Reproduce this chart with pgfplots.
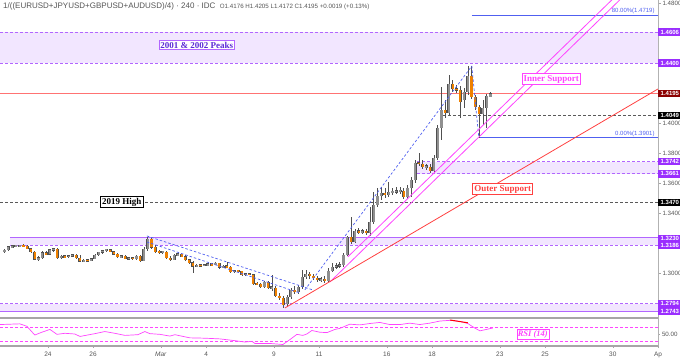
\documentclass[border=0pt]{standalone}
\usepackage{pgfplots}
\pgfplotsset{compat=1.18}
\usepackage{pgfplotstable}
\usepackage{fontspec}
\setmainfont{Liberation Sans}
\newfontfamily\serifb{Liberation Serif}
\definecolor{zfill}{HTML}{F2E6FF}
\definecolor{zline}{HTML}{B266FF}
\definecolor{zlab}{HTML}{9A2EFE}
\definecolor{upc}{HTML}{909090}
\definecolor{dnc}{HTML}{EE8000}
\definecolor{wick}{HTML}{505050}
\definecolor{fibblue}{HTML}{5060F0}
\definecolor{magl}{HTML}{FF44FF}
\definecolor{redl}{HTML}{FF4040}
\definecolor{darkred}{HTML}{8B0000}
\definecolor{txtgray}{HTML}{555555}
\definecolor{peaktxt}{HTML}{5B2BD6}
% rising candles (close >= open)
\pgfplotstableread{
x o h l c
-1.917 1.3140 1.3160 1.3133 1.3153
-1.750 1.3153 1.3180 1.3148 1.3175
-1.583 1.3175 1.3185 1.3168 1.3178
-1.417 1.3178 1.3186 1.3170 1.3180
-1.250 1.3180 1.3188 1.3172 1.3182
-0.417 1.3092 1.3110 1.3080 1.3100
-0.250 1.3100 1.3150 1.3095 1.3135
0.083 1.3125 1.3162 1.3120 1.3155
0.250 1.3155 1.3168 1.3140 1.3160
0.583 1.3102 1.3118 1.3095 1.3112
0.917 1.3108 1.3120 1.3102 1.3115
1.083 1.3115 1.3125 1.3108 1.3120
1.583 1.3078 1.3090 1.3070 1.3085
1.917 1.3082 1.3100 1.3078 1.3095
2.083 1.3095 1.3125 1.3090 1.3120
2.250 1.3120 1.3142 1.3115 1.3138
2.417 1.3138 1.3155 1.3130 1.3150
2.583 1.3150 1.3162 1.3140 1.3155
3.250 1.3108 1.3118 1.3100 1.3112
3.583 1.3095 1.3105 1.3088 1.3100
3.917 1.3096 1.3118 1.3085 1.3112
4.250 1.3082 1.3170 1.3078 1.3160
4.417 1.3160 1.3240 1.3150 1.3225
5.083 1.3138 1.3150 1.3128 1.3140
5.583 1.3088 1.3125 1.3085 1.3120
5.750 1.3120 1.3130 1.3112 1.3125
6.583 1.3045 1.3060 1.3040 1.3052
6.917 1.3048 1.3060 1.3045 1.3055
7.083 1.3055 1.3062 1.3048 1.3058
7.417 1.3055 1.3070 1.3050 1.3065
7.750 1.3038 1.3050 1.3032 1.3045
8.250 1.3008 1.3020 1.3000 1.3015
8.750 1.2988 1.3000 1.2980 1.2995
9.583 1.2908 1.2945 1.2900 1.2940
9.917 1.2900 1.2987 1.2880 1.2905
10.583 1.2793 1.2853 1.2780 1.2840
10.750 1.2840 1.2900 1.2827 1.2887
11.083 1.2873 1.2920 1.2860 1.2907
11.250 1.2907 1.3020 1.2893 1.2973
11.417 1.2973 1.3020 1.2960 1.2993
12.083 1.2953 1.2973 1.2940 1.2960
12.417 1.2947 1.3033 1.2940 1.3013
12.583 1.3013 1.3067 1.3007 1.3040
12.750 1.3040 1.3067 1.3027 1.3047
12.917 1.3047 1.3073 1.3033 1.3053
13.083 1.3053 1.3133 1.3040 1.3120
13.250 1.3120 1.3247 1.3113 1.3240
13.583 1.3207 1.3293 1.3200 1.3280
13.917 1.3273 1.3293 1.3260 1.3280
14.250 1.3267 1.3440 1.3247 1.3340
14.417 1.3340 1.3540 1.3327 1.3453
14.583 1.3453 1.3567 1.3440 1.3513
14.750 1.3513 1.3573 1.3487 1.3533
15.083 1.3520 1.3607 1.3507 1.3540
15.250 1.3540 1.3567 1.3520 1.3540
15.417 1.3540 1.3573 1.3527 1.3547
15.583 1.3547 1.3573 1.3527 1.3547
15.917 1.3507 1.3587 1.3493 1.3567
16.083 1.3567 1.3640 1.3507 1.3620
16.250 1.3620 1.3753 1.3600 1.3733
16.750 1.3707 1.3727 1.3687 1.3713
17.083 1.3680 1.3787 1.3667 1.3767
17.250 1.3767 1.3987 1.3753 1.3967
17.417 1.3967 1.4240 1.3887 1.4087
17.750 1.4067 1.4320 1.4053 1.4260
18.417 1.4153 1.4233 1.4100 1.4207
18.583 1.4207 1.4380 1.4187 1.4313
19.250 1.4060 1.4153 1.3987 1.4100
19.417 1.4100 1.4193 1.3967 1.4180
19.583 1.4176 1.4205 1.4172 1.4195
}\upcandles
% falling candles (close < open)
\pgfplotstableread{
x o h l c
-1.083 1.3182 1.3190 1.3170 1.3178
-0.917 1.3178 1.3185 1.3158 1.3162
-0.750 1.3162 1.3168 1.3135 1.3140
-0.583 1.3140 1.3145 1.3085 1.3092
-0.083 1.3135 1.3145 1.3118 1.3125
0.417 1.3160 1.3168 1.3095 1.3102
0.750 1.3112 1.3120 1.3100 1.3108
1.250 1.3120 1.3128 1.3092 1.3100
1.417 1.3100 1.3118 1.3072 1.3078
1.750 1.3085 1.3092 1.3078 1.3082
2.750 1.3155 1.3162 1.3138 1.3142
2.917 1.3142 1.3150 1.3120 1.3125
3.083 1.3125 1.3132 1.3100 1.3108
3.417 1.3112 1.3118 1.3090 1.3095
3.750 1.3100 1.3108 1.3090 1.3096
4.083 1.3112 1.3122 1.3075 1.3082
4.583 1.3225 1.3232 1.3160 1.3170
4.750 1.3170 1.3185 1.3135 1.3142
4.917 1.3142 1.3155 1.3130 1.3138
5.250 1.3140 1.3145 1.3095 1.3100
5.417 1.3100 1.3110 1.3080 1.3088
5.917 1.3125 1.3132 1.3105 1.3110
6.083 1.3110 1.3118 1.3080 1.3088
6.250 1.3088 1.3095 1.3060 1.3068
6.417 1.3068 1.3078 1.3000 1.3045
6.750 1.3052 1.3060 1.3042 1.3048
7.250 1.3058 1.3065 1.3050 1.3055
7.583 1.3065 1.3068 1.3030 1.3038
7.917 1.3045 1.3075 1.3035 1.3040
8.083 1.3040 1.3048 1.3000 1.3008
8.417 1.3015 1.3020 1.3005 1.3010
8.583 1.3010 1.3015 1.2980 1.2988
8.917 1.2995 1.3002 1.2985 1.2988
9.083 1.2988 1.2995 1.2920 1.2928
9.250 1.2928 1.2940 1.2918 1.2925
9.417 1.2925 1.2935 1.2900 1.2908
9.750 1.2940 1.2948 1.2895 1.2900
10.083 1.2900 1.2913 1.2840 1.2847
10.250 1.2847 1.2867 1.2820 1.2833
10.417 1.2833 1.2847 1.2767 1.2787
10.917 1.2887 1.2913 1.2860 1.2873
11.583 1.2993 1.3007 1.2960 1.2980
11.750 1.2980 1.2993 1.2953 1.2967
11.917 1.2967 1.2980 1.2940 1.2953
12.250 1.2960 1.2980 1.2933 1.2947
13.417 1.3240 1.3373 1.3193 1.3207
13.750 1.3280 1.3300 1.3260 1.3273
14.083 1.3280 1.3293 1.3253 1.3267
14.917 1.3533 1.3567 1.3500 1.3520
15.750 1.3547 1.3567 1.3493 1.3507
16.417 1.3733 1.3800 1.3713 1.3730
16.583 1.3727 1.3753 1.3693 1.3707
16.917 1.3707 1.3727 1.3667 1.3680
17.583 1.4087 1.4153 1.4033 1.4067
17.917 1.4260 1.4287 1.4207 1.4227
18.083 1.4227 1.4253 1.4200 1.4220
18.250 1.4220 1.4247 1.4033 1.4140
18.750 1.4313 1.4380 1.4160 1.4173
18.917 1.4173 1.4187 1.4087 1.4107
19.083 1.4107 1.4120 1.3901 1.4060
}\dncandles
\newcommand{\plab}[3]{\node[fill=#2, text=white, font=\bfseries\fontsize{6}{7}\selectfont, anchor=west, inner xsep=2.5pt, inner ysep=1.6pt] at (axis cs:27,#1) {#3};}
\begin{document}
\begin{tikzpicture}[x=1pt,y=1pt]
\path[use as bounding box] (0,0) rectangle (680,359);
\begin{axis}[
  at={(0pt,41pt)}, anchor=south west,
  width=658pt, height=318pt, scale only axis,
  xmin=-2.12, xmax=27, ymin=1.27, ymax=1.482,
  axis x line=none, axis y line*=right,
  y axis line style={draw=gray!60, line width=0.8pt, -},
  ytick={1.30,1.34,1.36,1.38,1.40,1.48},
  ytick style={draw=gray!70}, tick align=outside, major tick length=2.5pt,
  yticklabel style={font=\fontsize{6.2}{7}\selectfont, text=txtgray, xshift=-1.5pt,
    /pgf/number format/.cd, fixed, fixed zerofill, precision=4, assume math mode=true},
  clip mode=individual,
]
% zones
\addplot[fill=zfill, draw=none, forget plot] coordinates {(-2.12,1.4606) (27,1.4606) (27,1.4400) (-2.12,1.4400)} -- cycle;
\addplot[fill=zfill, draw=none, forget plot] coordinates {(16.33,1.3742) (27,1.3742) (27,1.3661) (16.33,1.3661)} -- cycle;
\addplot[fill=zfill, draw=none, forget plot] coordinates {(-1.68,1.3236) (27,1.3236) (27,1.3186) (-1.68,1.3186)} -- cycle;
\addplot[fill=zfill, draw=none, forget plot] coordinates {(-2.12,1.2794) (27,1.2794) (27,1.2745) (-2.12,1.2745)} -- cycle;
\addplot[zline, line width=1.3pt, forget plot] coordinates {(-1.68,1.3236) (27,1.3236)};
\addplot[zline, line width=1.3pt, forget plot] coordinates {(-2.12,1.2745) (27,1.2745)};
\addplot[zline, dashed, dash pattern=on 3pt off 2pt, line width=0.8pt] coordinates {(-2.12,1.4606) (27,1.4606)};
\addplot[zline, dashed, dash pattern=on 3pt off 2pt, line width=0.8pt] coordinates {(-2.12,1.4400) (27,1.4400)};
\addplot[zline, dashed, dash pattern=on 3pt off 2pt, line width=0.8pt] coordinates {(16.33,1.3742) (27,1.3742)};
\addplot[zline, dashed, dash pattern=on 3pt off 2pt, line width=0.8pt] coordinates {(16.33,1.3661) (27,1.3661)};
\addplot[zline, dashed, dash pattern=on 3pt off 2pt, line width=0.8pt] coordinates {(-1.68,1.3186) (27,1.3186)};
\addplot[zline, dashed, dash pattern=on 3pt off 2pt, line width=0.8pt] coordinates {(-2.12,1.2794) (27,1.2794)};
% other levels
\addplot[red!55, line width=0.7pt] coordinates {(-2.12,1.4195) (27,1.4195)};
\addplot[gray!70!black, dashed, dash pattern=on 3pt off 2pt, line width=0.8pt] coordinates {(17.5,1.4049) (27,1.4049)};
\addplot[gray!70!black, dashed, dash pattern=on 3pt off 2pt, line width=0.8pt] coordinates {(-2.12,1.3470) (27,1.3470)};
\addplot[fibblue, line width=0.8pt] coordinates {(18.76,1.4719) (27,1.4719)};
\addplot[fibblue, line width=0.8pt] coordinates {(19.07,1.3901) (27,1.3901)};
% candles: wicks
\addplot[draw=none, no markers, forget plot, error bars/.cd, y dir=both, y explicit, error mark=none, error mark options={draw=none, fill=none}, error bar style={draw=wick, line width=0.6pt, solid}]
  table[x=x, y expr=(\thisrow{h}+\thisrow{l})/2, y error expr=(\thisrow{h}-\thisrow{l})/2] {\upcandles};
\addplot[draw=none, no markers, forget plot, error bars/.cd, y dir=both, y explicit, error mark=none, error mark options={draw=none, fill=none}, error bar style={draw=wick, line width=0.6pt, solid}]
  table[x=x, y expr=(\thisrow{h}+\thisrow{l})/2, y error expr=(\thisrow{h}-\thisrow{l})/2] {\dncandles};
% candles: body outlines
\addplot[draw=none, no markers, forget plot, error bars/.cd, y dir=both, y explicit, error mark=none, error mark options={draw=none, fill=none}, error bar style={draw=wick, line width=3.0pt, solid}]
  table[x=x, y expr=(\thisrow{o}+\thisrow{c})/2, y error expr={max(abs(\thisrow{c}-\thisrow{o})/2,0.0005)+0.00027}] {\upcandles};
\addplot[draw=none, no markers, forget plot, error bars/.cd, y dir=both, y explicit, error mark=none, error mark options={draw=none, fill=none}, error bar style={draw=wick, line width=3.0pt, solid}]
  table[x=x, y expr=(\thisrow{o}+\thisrow{c})/2, y error expr={max(abs(\thisrow{c}-\thisrow{o})/2,0.0005)+0.00027}] {\dncandles};
% candles: bodies
\addplot[draw=none, no markers, forget plot, error bars/.cd, y dir=both, y explicit, error mark=none, error mark options={draw=none, fill=none}, error bar style={draw=upc, line width=2.2pt, solid}]
  table[x=x, y expr=(\thisrow{o}+\thisrow{c})/2, y error expr={max(abs(\thisrow{c}-\thisrow{o})/2,0.0005)}] {\upcandles};
\addplot[draw=none, no markers, forget plot, error bars/.cd, y dir=both, y explicit, error mark=none, error mark options={draw=none, fill=none}, error bar style={draw=dnc, line width=2.2pt, solid}]
  table[x=x, y expr=(\thisrow{o}+\thisrow{c})/2, y error expr={max(abs(\thisrow{c}-\thisrow{o})/2,0.0005)}] {\dncandles};
% trend lines
\addplot[fibblue, dashed, dash pattern=on 2.5pt off 2pt, line width=0.7pt] coordinates {(4.38,1.3247) (11.73,1.2887)};
\addplot[fibblue, dashed, dash pattern=on 2.5pt off 2pt, line width=0.7pt] coordinates {(4.38,1.3207) (11.15,1.2867)};
\addplot[fibblue, dashed, dash pattern=on 2.5pt off 2pt, line width=0.7pt] coordinates {(11.37,1.2887) (18.76,1.4380)};
\addplot[fibblue, dashed, dash pattern=on 2.5pt off 2pt, line width=0.7pt] coordinates {(18.76,1.4380) (19.07,1.3901)};
\addplot[magl, line width=0.8pt] coordinates {(12.48,1.2940) (26.19,1.4950)};
\addplot[magl, line width=0.8pt] coordinates {(13.27,1.3107) (25.84,1.4950)};
\addplot[redl, line width=0.8pt] coordinates {(10.49,1.2767) (27,1.4227)};
% labels
\node[draw=zline, fill=white, text=peaktxt, font=\serifb\bfseries\fontsize{9}{10}\selectfont, inner sep=1.5pt] at (axis cs:6.59,1.4520) {2001 \& 2002 Peaks};
\node[draw=magl, line width=0.8pt, fill=white, text=magl, font=\serifb\bfseries\fontsize{9}{10}\selectfont, inner sep=1.5pt] at (axis cs:22.28,1.4293) {Inner Support};
\node[draw=redl, line width=0.8pt, fill=white, text=redl, font=\serifb\bfseries\fontsize{9}{10}\selectfont, inner sep=1.5pt] at (axis cs:20.13,1.3560) {Outer Support};
\node[draw=black, fill=white, text=black, font=\serifb\bfseries\fontsize{9}{10}\selectfont, inner sep=1.5pt] at (axis cs:3.27,1.3473) {2019 High};
\node[anchor=south east, text=fibblue, font=\fontsize{6}{7}\selectfont, inner sep=1pt] at (axis cs:26.9,1.4719) {80.00\%(1.4719)};
\node[anchor=south east, text=fibblue, font=\fontsize{6}{7}\selectfont, inner sep=1pt] at (axis cs:26.9,1.3901) {0.00\%(1.3901)};
\node[anchor=north west, inner sep=0pt, text=txtgray] at (rel axis cs:0,1) [xshift=3pt, yshift=-3pt]
  {\fontsize{8}{9}\selectfont 1/((EURUSD+JPYUSD+GBPUSD+AUDUSD)/4) · 240 · IDC\ \ \fontsize{6.2}{7}\selectfont O1.4176 H1.4205 L1.4172 C1.4195 +0.0019 (+0.13\%)};
\plab{1.4606}{zlab}{1.4606}
\plab{1.4400}{zlab}{1.4400}
\plab{1.4195}{darkred}{1.4195}
\plab{1.4049}{black}{1.4049}
\plab{1.3742}{zlab}{1.3742}
\plab{1.3661}{zlab}{1.3661}
\plab{1.3470}{black}{1.3470}
\plab{1.3230}{zlab}{1.3230}
\plab{1.3186}{zlab}{1.3186}
\plab{1.2794}{zlab}{1.2794}
\plab{1.2743}{zlab}{1.2743}
\end{axis}
\begin{axis}[
  at={(0pt,13pt)}, anchor=south west,
  width=658pt, height=28pt, scale only axis,
  xmin=-2.12, xmax=27, ymin=15.7, ymax=95.7,
  axis y line*=right, axis x line*=bottom,
  y axis line style={draw=gray!60, line width=0.8pt, -},
  x axis line style={draw=gray!70, line width=1.5pt, -},
  ytick={50}, yticklabels={50.00},
  xtick={0,2,5,7,10,12,15,17,20,22,25,27},
  xticklabels={24,26,\textit{Mar},4,9,11,16,18,23,25,30,Ap},
  tick style={draw=gray!70}, tick align=outside, major tick length=2pt,
  xticklabel style={font=\fontsize{6.5}{7}\selectfont, text=txtgray},
  yticklabel style={font=\fontsize{6.2}{7}\selectfont, text=txtgray, xshift=-1.5pt},
  clip mode=individual,
]
\draw[gray!70, line width=1.5pt] (rel axis cs:0,1) -- (rel axis cs:1,1);
\addplot[magl, dashed, dash pattern=on 3pt off 2pt, line width=0.7pt] coordinates {(-2.12,70) (27,70)};
\addplot[magl, dashed, dash pattern=on 3pt off 2pt, line width=0.7pt] coordinates {(-2.12,30) (27,30)};
\addplot[magl, line width=0.7pt] coordinates {
(-2.12,77) (-1.68,78) (-1.24,79) (-0.93,72) (-0.58,47) (-0.27,55) (0.09,63) (0.40,49) (0.75,52) (1.19,50) (1.42,43) (2.08,51) (2.52,57) (2.96,52) (3.41,46) (3.98,48) (4.29,57) (4.51,51) (4.96,49) (5.40,44) (5.62,48) (6.28,39) (6.95,38) (7.61,36) (8.27,31) (8.72,27) (9.03,29) (9.16,23) (9.82,23) (10.40,20) (10.71,34) (11.02,49) (11.28,46) (11.46,50) (11.68,60) (12.04,55) (12.35,54) (12.70,63) (12.92,66) (13.36,78) (13.81,76) (14.25,80) (14.69,83) (15.13,77) (15.58,77) (16.02,81) (16.46,77) (16.90,81) (17.35,87) (17.79,89) (18.23,86) (18.58,80) (18.89,67) (19.12,59) (19.47,64) (19.69,67)};
\addplot[red, line width=1pt] coordinates {(17.79,90) (18.58,82)};
\node[draw=magl, fill=white, text=magl, font=\serifb\bfseries\itshape\fontsize{8.5}{9}\selectfont, inner sep=1pt] at (axis cs:21.46,50) {RSI (14)};
\end{axis}
\end{tikzpicture}
\end{document}
